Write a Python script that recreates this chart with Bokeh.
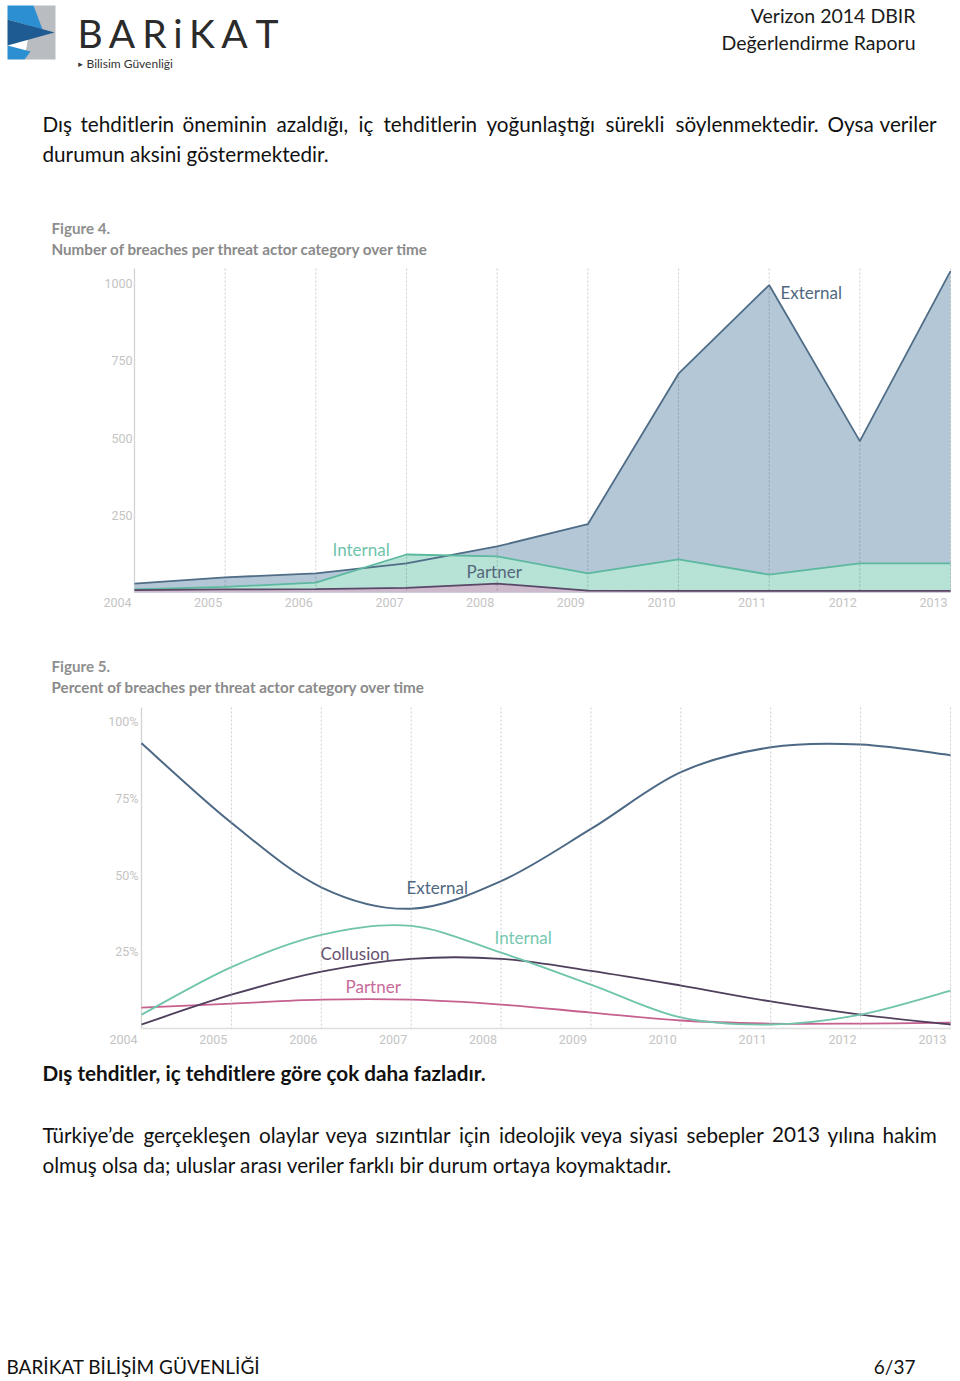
from bokeh.plotting import figure
from bokeh.models import Range1d
from bokeh.layouts import column
from bokeh.embed import file_html
from bokeh.resources import INLINE
from bokeh.core.properties import value

# ---------------- data ----------------
years = [2004, 2005, 2006, 2007, 2008, 2009, 2010, 2011, 2012, 2013]
year_labels = [str(y) for y in years]

# Figure 4: number of breaches (overlapping areas)
fig4_external = [29, 49, 62, 94, 149, 221, 708, 995, 490, 1040]
fig4_internal = [10, 18, 32, 123, 117, 62, 107, 58, 94, 94]
fig4_partner = [8, 10, 11, 15, 29, 6, 5, 5, 5, 5]
fig4_yticks = [250, 500, 750, 1000]
fig4_ytick_labels = ["250", "500", "750", "1000"]

# Figure 5: percent of breaches (smoothed lines)
fig5_external = [92.9, 67.0, 46.0, 39.0, 48.0, 65.0, 83.5, 91.6, 92.5, 89.0]
fig5_internal = [4.5, 20.0, 30.5, 33.4, 24.7, 14.3, 3.6, 1.3, 4.5, 12.3]
fig5_collusion = [1.3, 11.0, 18.5, 22.7, 22.7, 18.8, 14.0, 8.8, 4.5, 1.3]
fig5_partner = [6.8, 8.1, 9.4, 9.4, 7.8, 5.2, 2.6, 1.6, 1.6, 1.9]
fig5_yticks = [25, 50, 75, 100]
fig5_ytick_labels = ["25%", "50%", "75%", "100%"]

# ---------------- texts ----------------
header_right = ["Verizon 2014 DBIR", "Değerlendirme Raporu"]
p1_line1_words = ["Dış", "tehditlerin", "öneminin", "azaldığı,", "iç", "tehditlerin",
                  "yoğunlaştığı", "sürekli", "söylenmektedir.", "Oysa", "veriler"]
p1_line1_x = [42, 80, 182, 276, 358, 383, 486, 605, 675, 827, 879]
p1_line2 = "durumun aksini göstermektedir."
bold_line = "Dış tehditler, iç tehditlere göre çok daha fazladır."
p2_line1_words = ["Türkiye’de", "gerçekleşen", "olaylar", "veya", "sızıntılar", "için",
                  "ideolojik", "veya", "siyasi", "sebepler", "2013", "yılına", "hakim"]
p2_line1_x = [42, 143, 258.5, 325, 375, 458.5, 498.5, 580, 629, 686, 771.5, 827, 882]
p2_line2 = "olmuş olsa da; uluslar arası veriler farklı bir durum ortaya koymaktadır."
footer_left = "BARİKAT BİLİŞİM GÜVENLİĞİ"
footer_right = "6/37"

W = 952
M = 0
BODY_FONT = "Lato"
BODY_SIZE = 20.7


def canvas(h, x_range=None, y_range=None):
    if x_range is None:
        x_range = Range1d(0, W)
    if y_range is None:
        y_range = Range1d(h, 0)
    p = figure(width=W, height=h, x_range=x_range, y_range=y_range,
               output_backend="svg", toolbar_location=None,
               x_axis_location=None, y_axis_location=None,
               min_border=0, outline_line_color=None,
               background_fill_color="white", border_fill_color="white")
    p.grid.visible = False
    p.extra_x_ranges = {"px": Range1d(0, W)}
    p.extra_y_ranges = {"py": Range1d(h, 0)}
    return p


def put(p, top, X, Y, s, size, color, font=BODY_FONT, style="normal",
        align="left", baseline="middle"):
    p.text(x=[X - M], y=[Y - top], text=[s], x_range_name="px", y_range_name="py",
           text_font=value(font), text_font_size=f"{size}px", text_font_style=style,
           text_color=color, text_align=align, text_baseline=baseline)


def bez(xs, ys):
    n = len(xs)
    d = dict(x0=[], y0=[], x1=[], y1=[], cx0=[], cy0=[], cx1=[], cy1=[])
    for i in range(n - 1):
        xm, ym = (xs[i - 1], ys[i - 1]) if i > 0 else (xs[i], ys[i])
        xp, yp = (xs[i + 2], ys[i + 2]) if i + 2 < n else (xs[i + 1], ys[i + 1])
        d["x0"].append(xs[i]); d["y0"].append(ys[i])
        d["x1"].append(xs[i + 1]); d["y1"].append(ys[i + 1])
        d["cx0"].append(xs[i] + (xs[i + 1] - xm) / 6.0)
        d["cy0"].append(ys[i] + (ys[i + 1] - ym) / 6.0)
        d["cx1"].append(xs[i + 1] - (xp - xs[i]) / 6.0)
        d["cy1"].append(ys[i + 1] - (yp - ys[i]) / 6.0)
    return d


# ================= header + first paragraph =================
H_TOP, H_H = 0, 200
ph = canvas(H_H)

logo_xs = [[33, 55, 55, 24],
           [7, 33, 42, 7],
           [7, 30, 24, 7],
           [7, 54, 7]]
logo_ys = [[5, 5, 59, 59],
           [5, 5, 29, 19],
           [45, 51, 59, 59],
           [19, 32, 45]]
ph.patches(xs=logo_xs, ys=logo_ys, x_range_name="px", y_range_name="py",
           fill_color=["#b9bcc0", "#2b8fd2", "#2b8fd2", "#1d5b92"], line_color=None)

for ch, cx in zip("BARiKAT", [89.5, 121.5, 154, 177.5, 201.5, 234, 266.5]):
    put(ph, H_TOP, cx, 32, ch, 39, "#2b2b2b", align="center")
put(ph, H_TOP, 80, 63, "▸", 9, "#333333", font="DejaVu Sans", align="center")
put(ph, H_TOP, 86, 63, "Bilisim Güvenliği", 12, "#333333")

put(ph, H_TOP, 915, 15, header_right[0], 19.5, "#1a1a1a", align="right")
put(ph, H_TOP, 915, 42, header_right[1], 19.5, "#1a1a1a", align="right")

for w, x in zip(p1_line1_words, p1_line1_x):
    put(ph, H_TOP, x, 123, w, BODY_SIZE, "#111111")
put(ph, H_TOP, 42, 153, p1_line2, BODY_SIZE, "#111111")

# ================= Figure 4 =================
C1_TOP, C1_H = 200, 425
x2004, x2013 = 134, 950
y1000, y0 = 283, 592
sx = (x2013 - x2004) / (years[-1] - years[0])
sy = (y0 - y1000) / 1000.0
c1 = canvas(C1_H,
            Range1d(years[0] - (x2004 - M) / sx, years[-1] + (M + W - x2013) / sx),
            Range1d(-(C1_TOP + C1_H - y0) / sy, 1000 + (y1000 - C1_TOP) / sy))

put(c1, C1_TOP, 51, 227, "Figure 4.", 15.2, "#8f8f8f", style="bold")
put(c1, C1_TOP, 51, 248, "Number of breaches per threat actor category over time", 15.2,
    "#8a8a8a", style="bold")

g_top, g_bot = 268 - C1_TOP, y0 - C1_TOP
c1.segment(x0=[years[0]], x1=[years[0]], y0=[g_top], y1=[g_bot], y_range_name="py",
           line_color="#d3d3d3", line_width=1.3)

c1.varea(x=years, y1=[0] * len(years), y2=fig4_external, fill_color="#b4c7d6")
c1.varea(x=years, y1=[0] * len(years), y2=fig4_internal, fill_color="#b6e3d6")
c1.varea(x=years, y1=[0] * len(years), y2=fig4_partner, fill_color="#cdbbcd")

c1.segment(x0=years[1:], x1=years[1:], y0=[g_top] * 9, y1=[g_bot] * 9, y_range_name="py",
           line_color="black", line_alpha=0.2, line_width=1, line_dash="2 2")

c1.line(years, fig4_external, line_color="#4f6d87", line_width=1.8)
c1.line(years, fig4_internal, line_color="#5cb89f", line_width=1.8)
c1.line(years, fig4_partner, line_color="#5a4666", line_width=1.8)

c1.text(x=[years[0]] * len(fig4_yticks), y=fig4_yticks, text=fig4_ytick_labels,
        x_offset=-2, text_align="right", text_baseline="middle",
        text_font=value("Roboto"), text_font_size="12.5px", text_color="#c4c4c4")
c1.text(x=years, y=[602 - C1_TOP] * len(years), text=year_labels, y_range_name="py",
        x_offset=-3, text_align="right", text_baseline="middle",
        text_font=value("Roboto"), text_font_size="12.5px", text_color="#c4c4c4")

put(c1, C1_TOP, 780, 292, "External", 17, "#4f6880")
put(c1, C1_TOP, 332, 549, "Internal", 17, "#70c3ac")
put(c1, C1_TOP, 466, 571, "Partner", 17, "#55677a")

# ================= Figure 5 =================
C2_TOP, C2_H = 625, 430
x2004b, x2013b = 141, 950
y100, y0b = 721, 1028
sx2 = (x2013b - x2004b) / (years[-1] - years[0])
sy2 = (y0b - y100) / 100.0
c2 = canvas(C2_H,
            Range1d(years[0] - (x2004b - M) / sx2, years[-1] + (M + W - x2013b) / sx2),
            Range1d(-(C2_TOP + C2_H - y0b) / sy2, 100 + (y100 - C2_TOP) / sy2))

put(c2, C2_TOP, 51, 665, "Figure 5.", 15.2, "#8f8f8f", style="bold")
put(c2, C2_TOP, 51, 686, "Percent of breaches per threat actor category over time", 15.2,
    "#8a8a8a", style="bold")

g2_top, g2_bot = 707 - C2_TOP, y0b - C2_TOP
c2.segment(x0=[years[0]], x1=[years[0]], y0=[g2_top], y1=[g2_bot], y_range_name="py",
           line_color="#d3d3d3", line_width=1.3)
c2.segment(x0=[years[0]], x1=[years[-1]], y0=[0], y1=[0],
           line_color="#dedede", line_width=1.5)
c2.segment(x0=years[1:], x1=years[1:], y0=[g2_top] * 9, y1=[g2_bot] * 9, y_range_name="py",
           line_color="#cccccc", line_width=1, line_dash="2 2")

for series, col, lw in [(fig5_partner, "#c5608f", 1.8),
                        (fig5_collusion, "#4f3f5c", 1.8),
                        (fig5_internal, "#6fc4ab", 1.8),
                        (fig5_external, "#4d6985", 2.0)]:
    c2.bezier(line_color=col, line_width=lw, **bez(years, series))

c2.text(x=[years[0]] * len(fig5_yticks), y=fig5_yticks, text=fig5_ytick_labels,
        x_offset=-3, text_align="right", text_baseline="middle",
        text_font=value("Roboto"), text_font_size="12.5px", text_color="#c4c4c4")
c2.text(x=years, y=[1039 - C2_TOP] * len(years), text=year_labels, y_range_name="py",
        x_offset=-4, text_align="right", text_baseline="middle",
        text_font=value("Roboto"), text_font_size="12.5px", text_color="#c4c4c4")

put(c2, C2_TOP, 406, 887, "External", 17, "#4f6880")
put(c2, C2_TOP, 494, 937, "Internal", 17, "#76c8b1")
put(c2, C2_TOP, 320, 953, "Collusion", 17, "#66526f")
put(c2, C2_TOP, 345, 986, "Partner", 17, "#c86a99")

# ================= lower text + footer =================
F_TOP, F_H = 1055, 325
pf = canvas(F_H)
put(pf, F_TOP, 42, 1072, bold_line, BODY_SIZE, "#111111", style="bold")
for w, x in zip(p2_line1_words, p2_line1_x):
    put(pf, F_TOP, x, 1134, w, BODY_SIZE, "#111111")
put(pf, F_TOP, 42, 1164, p2_line2, BODY_SIZE, "#111111")
put(pf, F_TOP, 6, 1366, footer_left, 19, "#111111")
put(pf, F_TOP, 915, 1366, footer_right, 19, "#111111", align="right")

layout = column(ph, c1, c2, pf, spacing=0)
open("out.html", "w").write(file_html(layout, INLINE))
